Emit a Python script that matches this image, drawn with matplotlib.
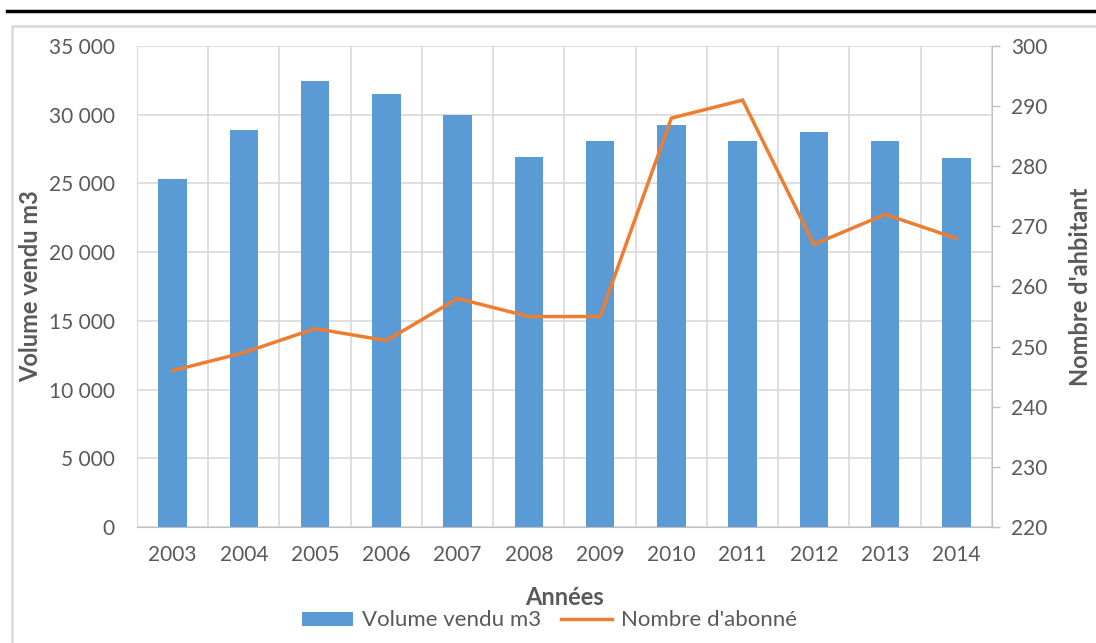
import matplotlib.pyplot as plt
from matplotlib.lines import Line2D
from matplotlib.patches import Patch, Rectangle
from matplotlib.ticker import FuncFormatter, MultipleLocator
import numpy as np

plt.rcParams['font.family'] = ['Lato', 'DejaVu Sans']

# Data
years = ['2003', '2004', '2005', '2006', '2007', '2008',
         '2009', '2010', '2011', '2012', '2013', '2014']
volume = [25300, 28900, 32450, 31500, 30000, 26900,
          28050, 29250, 28050, 28720, 28050, 26850]
abonnes = [246, 249, 253, 251, 258, 255, 255, 288, 291, 267, 272, 268]

bar_color = '#5B9BD5'
line_color = '#ED7D31'
text_color = '#595959'
grid_color = '#D9D9D9'

fig = plt.figure(figsize=(10.96, 6.43), dpi=100)
ax = fig.add_axes([0.125, 0.1804, 0.7801, 0.7481])
x = np.arange(len(years))

ax.bar(x, volume, width=0.4, color=bar_color, zorder=2)
ax.set_xlim(-0.5, len(years) - 0.5)
ax.set_ylim(0, 35000)
ax.yaxis.set_major_locator(MultipleLocator(5000))
ax.yaxis.set_major_formatter(FuncFormatter(lambda v, p: f"{int(v):,}".replace(',', ' ')))
ax.set_xticks(x)
ax.set_xticklabels(years)
ax.set_xticks(np.arange(-0.5, len(years)), minor=True)
ax.grid(axis='y', which='major', color=grid_color, lw=1.2, zorder=0)
ax.grid(axis='x', which='minor', color=grid_color, lw=1.2, zorder=0)
ax.set_axisbelow(True)
ax.tick_params(axis='x', which='both', length=0, pad=13, labelsize=15, labelcolor=text_color)
ax.tick_params(axis='y', length=0, pad=16, labelsize=15, labelcolor=text_color)
for s in ['top', 'right']:
    ax.spines[s].set_visible(False)
ax.spines['left'].set_color(grid_color)
ax.spines['bottom'].set_color('#BFBFBF')
ax.set_xlabel('Années', fontsize=17, fontweight='bold', color=text_color, labelpad=15)
ax.set_ylabel('Volume vendu m3', fontsize=17, fontweight='bold', color=text_color, labelpad=5)

ax2 = ax.twinx()
ax2.plot(x, abonnes, color=line_color, lw=2.5, solid_joinstyle='miter', zorder=3)
ax2.set_ylim(220, 300)
ax2.yaxis.set_major_locator(MultipleLocator(10))
ax2.tick_params(axis='y', length=6, width=1, color='#BFBFBF', pad=8,
                labelsize=15, labelcolor=text_color)
for s in ['top', 'left', 'bottom']:
    ax2.spines[s].set_visible(False)
ax2.spines['right'].set_color('#BFBFBF')
ax2.set_ylabel("Nombre d'ahbitant", fontsize=17, fontweight='bold', color=text_color, labelpad=15)

handles = [Patch(facecolor=bar_color, label='Volume vendu m3'),
           Line2D([0], [0], color=line_color, lw=2.5, label="Nombre d'abonné")]
fig.legend(handles=handles, loc='center', bbox_to_anchor=(0.501, 0.035), ncol=2,
           frameon=False, fontsize=16, labelcolor=text_color,
           handlelength=2.3, handleheight=0.6, columnspacing=0.9, handletextpad=0.4)

# outer frame: black top rule and light border
fig.add_artist(Line2D([0.006, 1.0], [0.983, 0.983], color='black', lw=2.5,
                      transform=fig.transFigure))
fig.add_artist(Rectangle((0.0105, -0.01), 1.0, 0.969, fill=False, edgecolor=grid_color,
                         lw=1.8, transform=fig.transFigure))

fig.savefig('out.png', dpi=100)
